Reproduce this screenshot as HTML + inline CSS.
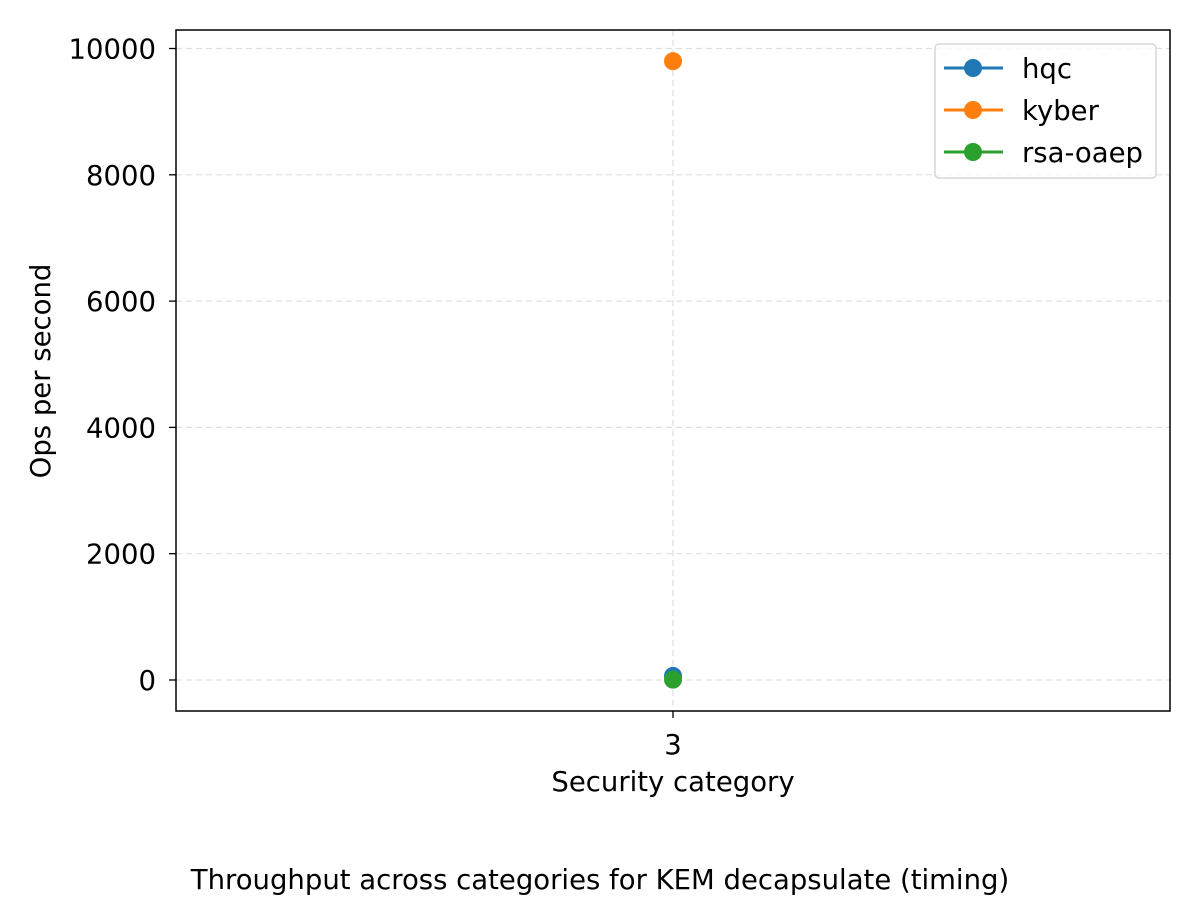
<!DOCTYPE html>
<html><head><meta charset="utf-8">
<style>
body{margin:0;background:#fff;}
svg text{font-family:"DejaVu Sans","Liberation Sans",sans-serif;fill:#000;}
</style></head>
<body>
<svg id="chart" width="1200" height="900" xmlns="http://www.w3.org/2000/svg">
<rect width="1200" height="900" fill="#fff"/>
<g id="grid"></g>
<g id="marks"></g>
<rect x="176" y="30" width="994" height="681" fill="none" stroke="#000" stroke-width="1.5"/>
<g id="axes"></g>
<text x="673" y="791" font-size="27.5" text-anchor="middle">Security category</text>
<text transform="translate(50,371) rotate(-90)" font-size="27.5" text-anchor="middle">Ops per second</text>
<text x="600" y="889" font-size="27.5" text-anchor="middle">Throughput across categories for KEM decapsulate (timing)</text>
<g id="legend"></g>
</svg>
<script>
const categories = ["3"];
const seriesNames = ["hqc","kyber","rsa-oaep"];
const hqcValues = [65];
const kyberValues = [9800];
const rsaValues = [5];
const yTicks = [0,2000,4000,6000,8000,10000];
const colors = ["#1f77b4","#ff7f0e","#2ca02c"];

const NS="http://www.w3.org/2000/svg";
const X0=176,X1=1170,Y0=30,Y1=711;
const yMin=-491,yMax=10293;
const FS=27.5;
function yScale(v){return Y1-(v-yMin)/(yMax-yMin)*(Y1-Y0);}
function xScale(i){return X0+(X1-X0)*(i+1)/(categories.length+1);}
function mk(tag,attrs,parent){const e=document.createElementNS(NS,tag);for(const k in attrs)e.setAttribute(k,attrs[k]);parent.appendChild(e);return e;}
const grid=document.getElementById('grid'),axes=document.getElementById('axes'),marks=document.getElementById('marks'),legend=document.getElementById('legend');

yTicks.forEach(t=>{
  const y=yScale(t);
  const g=mk('line',{x1:X0,x2:X1,y1:y,y2:y,stroke:'#e0e0e0','stroke-dasharray':'6,4','stroke-width':1.2},grid);
  
  
  const tk=mk('line',{x1:X0-7,x2:X0,y1:y,y2:y,stroke:'#000','stroke-width':1.3},axes);
  
  
  const tx=mk('text',{x:X0-20,y:y+10,'font-size':FS,'text-anchor':'end'},axes);
  tx.textContent=t;
  
  
});
categories.forEach((c,i)=>{
  const x=xScale(i);
  const g=mk('line',{x1:x,x2:x,y1:Y0,y2:Y1,stroke:'#e0e0e0','stroke-dasharray':'6,4','stroke-width':1.2},grid);
  
  
  const tk=mk('line',{x1:x,x2:x,y1:Y1,y2:Y1+7,stroke:'#000','stroke-width':1.3},axes);
  
  
  const tx=mk('text',{x:x,y:Y1+43,'font-size':FS,'text-anchor':'middle'},axes);
  tx.textContent=c;
  
  
});
const allSeries=[hqcValues,kyberValues,rsaValues];
allSeries.forEach((vals,s)=>{
  const pts=vals.map((v,i)=>xScale(i)+','+yScale(v)).join(' ');
  const pl=mk('polyline',{points:pts,fill:'none',stroke:colors[s],'stroke-width':3},marks);
  
  
  vals.forEach((v,i)=>{
    const c=mk('circle',{cx:xScale(i),cy:yScale(v),r:9,fill:colors[s]},marks);
    
    
  });
});
const lb=mk('rect',{x:935,y:44,width:221,height:134,rx:4,fill:'#fff','fill-opacity':0.8,stroke:'#d5d5d5','stroke-width':1.5},legend);


seriesNames.forEach((n,s)=>{
  const y=68+s*42;
  const g=mk('g',{},legend);
  
  
  mk('line',{x1:944,x2:1003,y1:y,y2:y,stroke:colors[s],'stroke-width':3},g);
  mk('circle',{cx:973,cy:y,r:9,fill:colors[s]},g);
  const t=mk('text',{x:1022,y:y+10,'font-size':FS},g);
  t.textContent=n;
});
</script>
</body></html>
